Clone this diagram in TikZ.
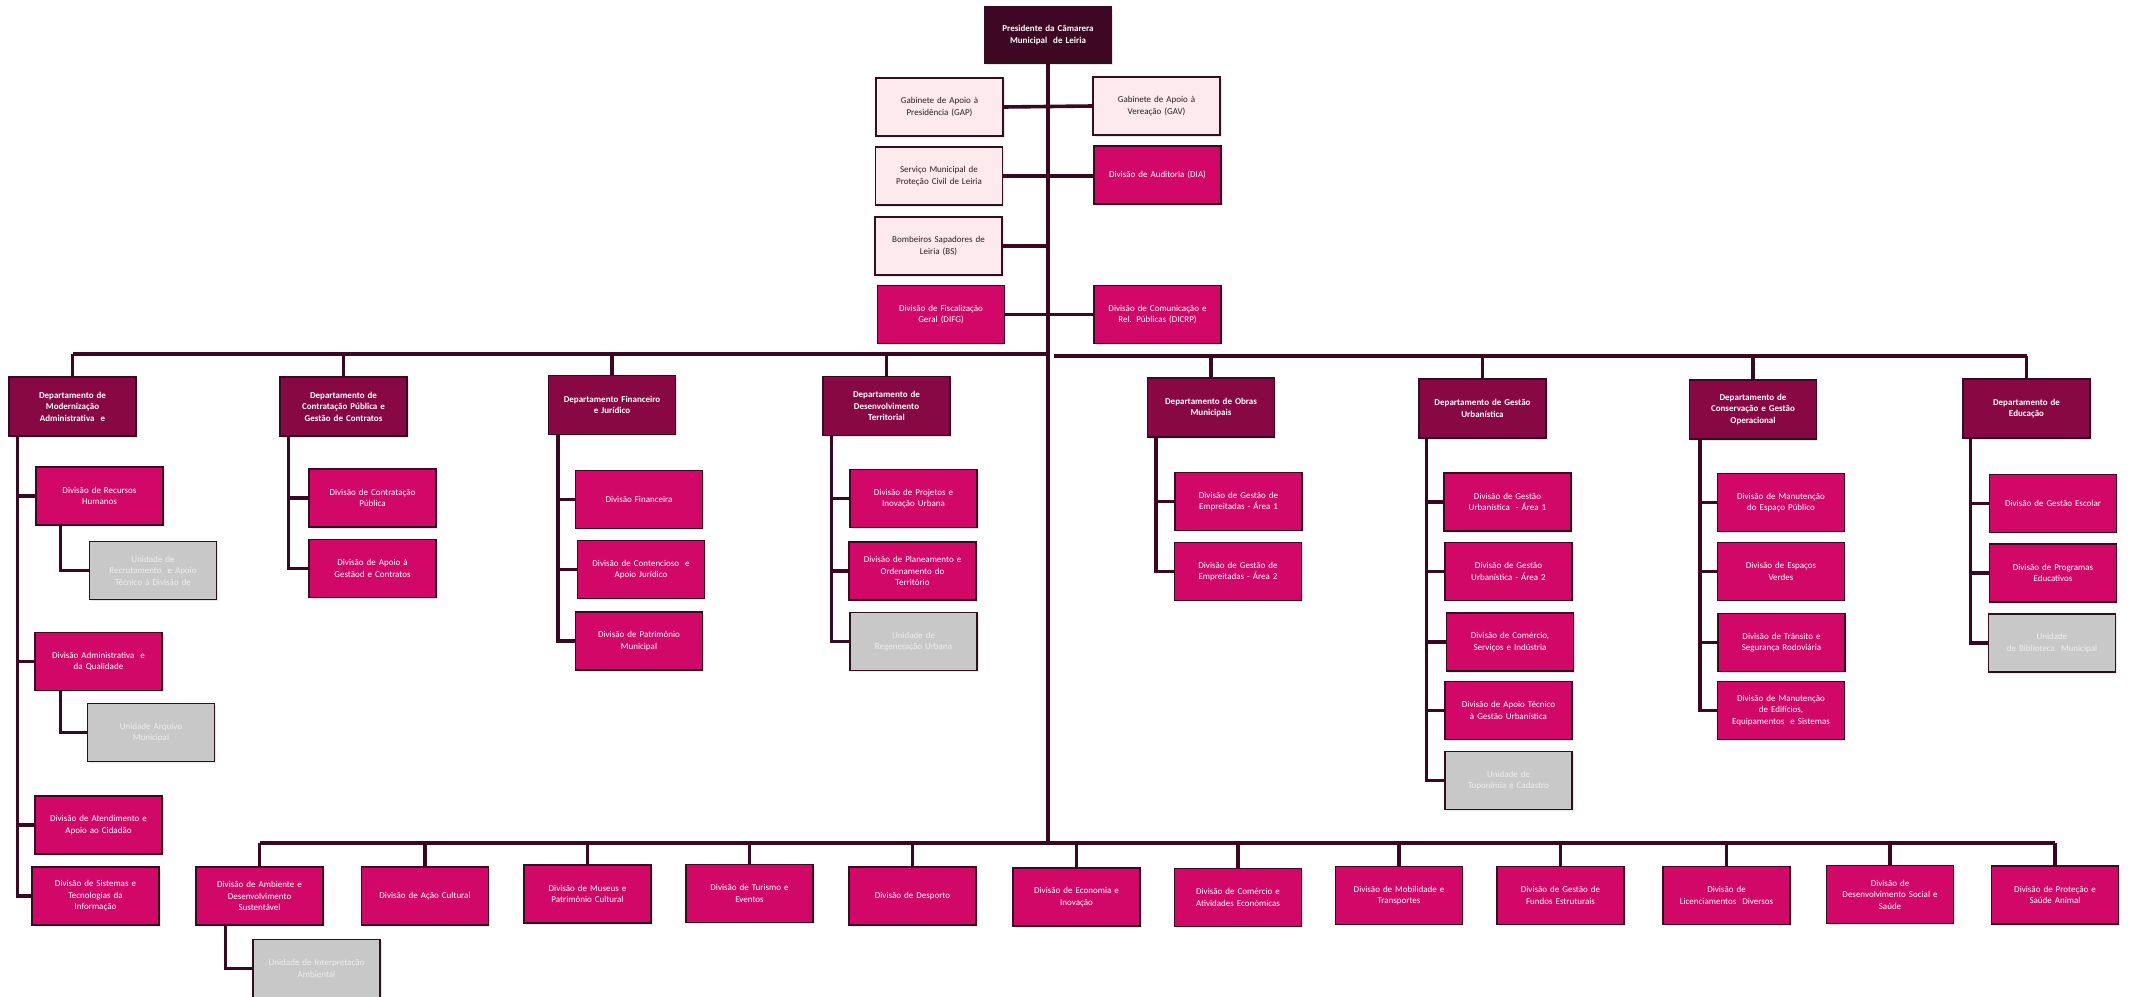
\documentclass[tikz,border=0pt]{standalone}
\usepackage{fontspec}
\setmainfont{Carlito}
\usetikzlibrary{shadows}
\definecolor{presc}{RGB}{62,8,36}
\definecolor{deptc}{RGB}{136,8,68}
\definecolor{divc}{RGB}{210,8,104}
\definecolor{gabc}{RGB}{253,234,238}
\definecolor{unitc}{RGB}{200,200,200}
\definecolor{unittxt}{RGB}{238,238,238}
\definecolor{connc}{RGB}{58,8,32}
\definecolor{bordc}{RGB}{50,14,30}
\definecolor{gabtxt}{RGB}{40,30,35}
\begin{document}
\begin{tikzpicture}[x=1pt,y=-1pt,
  box/.style={draw=bordc, line width=1.2pt, minimum width=127pt, minimum height=58pt,
    text width=121pt, align=center, inner sep=2pt,
    font=\fontsize{9}{11.6}\selectfont,
    drop shadow={opacity=0.3, shadow xshift=1.8pt, shadow yshift=-1.8pt, fill=black!30}},
  presbox/.style={box, fill=presc, text=white, font=\fontsize{9}{11.6}\selectfont\bfseries, minimum height=56pt},
  deptbox/.style={box, fill=deptc, text=white, font=\fontsize{9}{11.6}\selectfont\bfseries, minimum height=59pt},
  divbox/.style={box, fill=divc, text=white},
  gabbox/.style={box, fill=gabc, text=gabtxt},
  unitbox/.style={box, fill=unitc, text=unittxt},
  conn/.style={draw=connc, line width=3.6pt}
]
\useasboundingbox[fill=white] (0,0) rectangle (2132,996);

% ---------- top ----------
\node[presbox] (pres) at (1048,35) {Presidente da Câmarera\\Municipal\ \ de Leiria};
\node[gabbox] (gap) at (939.5,107) {Gabinete de Apoio à\\Presidência (GAP)};
\node[gabbox] (gav) at (1156.5,106) {Gabinete de Apoio à\\Vereação (GAV)};
\node[gabbox] (svc) at (939,176) {Serviço Municipal de\\Proteção Civil de Leiria};
\node[divbox] (dia) at (1157.5,175) {Divisão de Auditoria (DIA)};
\node[gabbox] (bsp) at (938.5,246) {Bombeiros Sapadores de\\Leiria (BS)};
\node[divbox] (difg) at (941,314.5) {Divisão de Fiscalização\\Geral (DIFG)};
\node[divbox] (dicrp) at (1157.5,314.5) {Divisão de Comunicação e\\Rel. Públicas (DICRP)};

% ---------- departments ----------
\node[deptbox] (d1) at (72.5,406.5) {Departamento de\\Modernização\\Administrativa\ \ e};
\node[deptbox] (d2) at (343.5,406.5) {Departamento de\\Contratação Pública e\\Gestão de Contratos};
\node[deptbox] (d3) at (612,405) {Departamento Financeiro\\e Jurídico};
\node[deptbox] (d4) at (886.5,406) {Departamento de\\Desenvolvimento\\Territorial};
\node[deptbox] (d5) at (1211,407.5) {Departamento de Obras\\Municipais};
\node[deptbox] (d6) at (1482.5,408.5) {Departamento de Gestão\\Urbanística};
\node[deptbox] (d7) at (1753,409.5) {Departamento de\\Conservação e Gestão\\Operacional};
\node[deptbox] (d8) at (2026.5,408.5) {Departamento de\\Educação};

% ---------- D1 ----------
\node[divbox] (rh) at (99.5,496) {Divisão de Recursos\\Humanos};
\node[unitbox] (urec) at (153,570.5) {Unidade de\\Recrutamento\ \ e Apoio\\Técnico à Divisão de};
\node[divbox] (adm) at (98.5,661.5) {Divisão Administrativa\ \ e\\da Qualidade};
\node[unitbox] (uarq) at (151,732.5) {Unidade Arquivo\\Municipal};
\node[divbox] (aten) at (98.5,825) {Divisão de Atendimento e\\Apoio ao Cidadão};
\node[divbox] (sist) at (95.5,896) {Divisão de Sistemas e\\Tecnologias da\\Informação};

% ---------- D2 ----------
\node[divbox] (ctp) at (372.5,498) {Divisão de Contratação\\Pública};
\node[divbox] (agc) at (372.5,568.5) {Divisão de Apoio à\\Gestãod e Contratos};

% ---------- D3 ----------
\node[divbox] (fin) at (639,499.5) {Divisão Financeira};
\node[divbox] (cont) at (641,569.5) {Divisão de Contencioso\ \ e\\Apoio Jurídico};
\node[divbox] (patr) at (639,641) {Divisão de Património\\Municipal};

% ---------- D4 ----------
\node[divbox] (proj) at (913.5,498.5) {Divisão de Projetos e\\Inovação Urbana};
\node[divbox] (plan) at (912.5,571) {Divisão de Planeamento e\\Ordenamento do\\Território};
\node[unitbox] (ureg) at (913.5,641.5) {Unidade de\\Regeneração Urbana};

% ---------- D5 ----------
\node[divbox] (ge1) at (1238.5,501.5) {Divisão de Gestão de\\Empreitadas - Área 1};
\node[divbox] (ge2) at (1238,571.5) {Divisão de Gestão de\\Empreitadas - Área 2};

% ---------- D6 ----------
\node[divbox] (gu1) at (1507.5,502) {Divisão de Gestão\\Urbanística\ \ - Área 1};
\node[divbox] (gu2) at (1508.5,571.5) {Divisão de Gestão\\Urbanística - Área 2};
\node[divbox] (csi) at (1510,642) {Divisão de Comércio,\\Serviços e Indústria};
\node[divbox] (atgu) at (1508.5,710.5) {Divisão de Apoio Técnico\\à Gestão Urbanística};
\node[unitbox] (utop) at (1508.5,780.5) {Unidade de\\Toponímia e Cadastro};

% ---------- D7 ----------
\node[divbox] (mep) at (1781,502.5) {Divisão de Manutenção\\do Espaço Público};
\node[divbox] (ever) at (1781,571.5) {Divisão de Espaços\\Verdes};
\node[divbox] (tran) at (1781.5,642.5) {Divisão de Trânsito e\\Segurança Rodoviária};
\node[divbox] (medf) at (1781,710.5) {Divisão de Manutenção\\de Edifícios,\\Equipamentos\ \ e Sistemas};

% ---------- D8 ----------
\node[divbox] (gesc) at (2053,503.5) {Divisão de Gestão Escolar};
\node[divbox] (prog) at (2053,573) {Divisão de Programas\\Educativos};
\node[unitbox] (ubib) at (2052,643) {Unidade\\de Biblioteca\ \ Municipal};

% ---------- bottom row ----------
\node[divbox] (amb) at (259.5,896) {Divisão de Ambiente e\\Desenvolvimento\\Sustentável};
\node[unitbox] (uint) at (316.5,968.5) {Unidade de Interpretação\\Ambiental};
\node[divbox] (acul) at (425,896) {Divisão de Ação Cultural};
\node[divbox] (mus) at (587.5,894) {Divisão de Museus e\\Património Cultural};
\node[divbox] (tur) at (749.5,893.5) {Divisão de Turismo e\\Eventos};
\node[divbox] (desp) at (912.5,896) {Divisão de Desporto};
\node[divbox] (econ) at (1076.5,897) {Divisão de Economia e\\Inovação};
\node[divbox] (cae) at (1238,897.5) {Divisão de Comércio e\\Atividades Económicas};
\node[divbox] (mob) at (1399,895.5) {Divisão de Mobilidade e\\Transportes};
\node[divbox] (fund) at (1560.5,895.5) {Divisão de Gestão de\\Fundos Estruturais};
\node[divbox] (lic) at (1726.5,895.5) {Divisão de\\Licenciamentos\ \ Diversos};
\node[divbox] (dss) at (1890,894.5) {Divisão de\\Desenvolvimento Social e\\Saúde};
\node[divbox] (pro) at (2055,895) {Divisão de Proteção e\\Saúde Animal};

% ---------- connectors ----------
\coordinate (tbarl) at (0,354);
\coordinate (tbarr) at (0,356);
\coordinate (rstart) at (1054,356);
\coordinate (bbar) at (0,843);

% main spine
\draw[conn] (pres.south) -- (pres.south |- bbar);
\draw[conn] (gap.east) -- (gav.west);
\draw[conn] (svc.east) -- (svc.east -| dia.west);
\draw[conn] (bsp.east) -- (bsp.east -| pres.south);
\draw[conn] (difg.east) -- (dicrp.west);

% top bar (left half joined to spine, right half starting just right of it) and drops
\draw[conn] (d1.north |- tbarl) -- (pres.south |- tbarl);
\draw[conn] (rstart) -- (d8.north |- tbarr);
\foreach \d in {d1,d2,d3,d4}
  \draw[conn] (\d.north) -- (\d.north |- tbarl);
\foreach \d in {d5,d6,d7,d8}
  \draw[conn] (\d.north) -- (\d.north |- tbarr);

% department children
\foreach \c in {rh,adm,aten,sist}
  \draw[conn] ([xshift=9pt]d1.south west) |- (\c.west);
\foreach \c in {ctp,agc}
  \draw[conn] ([xshift=9pt]d2.south west) |- (\c.west);
\foreach \c in {fin,cont,patr}
  \draw[conn] ([xshift=10pt]d3.south west) |- (\c.west);
\foreach \c in {proj,plan,ureg}
  \draw[conn] ([xshift=9pt]d4.south west) |- (\c.west);
\foreach \c in {ge1,ge2}
  \draw[conn] ([xshift=9pt]d5.south west) |- (\c.west);
\foreach \c in {gu1,gu2,csi,atgu,utop}
  \draw[conn] ([xshift=8pt]d6.south west) |- (\c.west);
\foreach \c in {mep,ever,tran,medf}
  \draw[conn] ([xshift=11pt]d7.south west) |- (\c.west);
\foreach \c in {gesc,prog,ubib}
  \draw[conn] ([xshift=8pt]d8.south west) |- (\c.west);

% units under divisions
\draw[conn] ([xshift=25pt]rh.south west) |- (urec.west);
\draw[conn] ([xshift=26pt]adm.south west) |- (uarq.west);
\draw[conn] ([xshift=30pt]amb.south west) |- (uint.west);

% bottom bar and drops
\draw[conn] (amb.north |- bbar) -- (pro.north |- bbar);
\foreach \b in {amb,acul,mus,tur,desp,econ,cae,mob,fund,lic,dss,pro}
  \draw[conn] (\b.north) -- (\b.north |- bbar);
\end{tikzpicture}
\end{document}
